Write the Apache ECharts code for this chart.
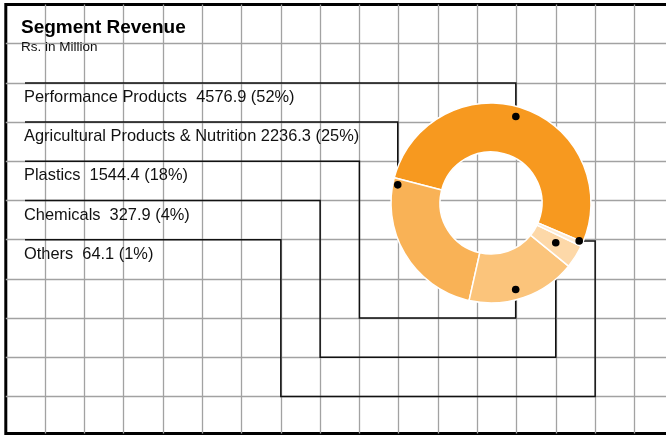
<!DOCTYPE html>
<html>
<head>
<meta charset="utf-8">
<title>Segment Revenue</title>
<script src="https://cdn.jsdelivr.net/npm/echarts@6/dist/echarts.min.js"></script>
<style>
  html, body { margin: 0; padding: 0; background: #fff; }
  #chart { width: 666px; height: 435px; }
</style>
</head>
<body>
<div id="chart"></div>
<script>
// data
var categories = ['Performance Products', 'Agricultural Products & Nutrition', 'Plastics', 'Chemicals', 'Others'];
var revenue = [4576.9, 2236.3, 1544.4, 327.9, 64.1];

// styles
var sliceColors = ['#f7991f', '#f9b256', '#fbc47b', '#fdd8a8', '#feecd6'];
var FONT = '"Liberation Sans", Arial, Helvetica, sans-serif';

// pie geometry (pixels)
var CX = 491, CY = 203, R_IN = 51, R_OUT = 100, START = -23;

// background grid (pixels)
var GX = 5.8, GY = 4.5, CELL_X = 39.29, CELL_Y = 39.2;
function gx(c) { return GX + c * CELL_X; }
function gy(r) { return GY + r * CELL_Y; }

// where each label sits and how its connector is routed (grid rows / cols)
var labelRow = [2, 3, 4, 5, 6];
var detourCol = [null, null, 9, 8, 7];
var detourRow = [null, null, 8, 9, 10];
var sideCol = [null, null, null, null, 15];
// dot position inside its slice: fraction of the slice angle, radius
var dotFrac = [0.515, 0.04, 0.45, 0.56, 0.9];
var dotR = [90, 95, 90, 76, 96];
var LABEL_X = 24;

var total = revenue.reduce(function (a, b) { return a + b; }, 0);

// dot anchor for slice i, from the cumulative data angles
function anchor(i) {
  var before = 0;
  for (var k = 0; k < i; k++) before += revenue[k];
  var a0 = START + before / total * 360;
  var span = revenue[i] / total * 360;
  var a = (a0 + span * dotFrac[i]) * Math.PI / 180;
  return [CX + dotR[i] * Math.cos(a), CY - dotR[i] * Math.sin(a)];
}

// connector from the dot to the label row
function route(i) {
  var d = anchor(i);
  var y0 = gy(labelRow[i]);
  var pts = [d];
  if (sideCol[i] != null) {
    pts.push([gx(sideCol[i]), d[1]]);
    pts.push([gx(sideCol[i]), gy(detourRow[i])]);
    pts.push([gx(detourCol[i]), gy(detourRow[i])]);
    pts.push([gx(detourCol[i]), y0]);
  } else if (detourCol[i] != null) {
    pts.push([d[0], gy(detourRow[i])]);
    pts.push([gx(detourCol[i]), gy(detourRow[i])]);
    pts.push([gx(detourCol[i]), y0]);
  } else {
    pts.push([d[0], y0]);
  }
  pts.push([LABEL_X + 1, y0]);
  return pts;
}

var chart = echarts.init(document.getElementById('chart'), null, { renderer: 'canvas' });

var dots = categories.map(function (c, i) {
  var p = anchor(i);
  return {
    type: 'circle',
    z: 100,
    shape: { cx: p[0], cy: p[1], r: 3.8 },
    style: { fill: '#000' }
  };
});

var option = {
  animation: false,
  backgroundColor: '#fff',
  title: {
    text: 'Segment Revenue',
    subtext: 'Rs. in Million',
    left: 21,
    top: 18,
    padding: 0,
    itemGap: 3,
    textStyle: { fontFamily: FONT, fontSize: 19, fontWeight: 'bold', color: '#000' },
    subtextStyle: { fontFamily: FONT, fontSize: 13.5, color: '#111' }
  },
  grid: {
    left: GX,
    top: GY,
    width: CELL_X * 17,
    height: 429,
    outerBoundsMode: 'none',
    containLabel: false,
    show: true,
    borderColor: '#000',
    borderWidth: 3,
    backgroundColor: 'transparent'
  },
  xAxis: {
    type: 'value',
    min: 0,
    max: 17,
    interval: 1,
    axisLine: { show: false },
    axisTick: { show: false },
    axisLabel: { show: false },
    splitLine: { show: true, showMinLine: false, lineStyle: { color: '#a2a2a2', width: 1.3 } }
  },
  yAxis: {
    type: 'value',
    inverse: true,
    min: 0,
    max: 429 / CELL_Y,
    interval: 1,
    axisLine: { show: false },
    axisTick: { show: false },
    axisLabel: { show: false },
    splitLine: { show: true, showMinLine: false, showMaxLine: false, lineStyle: { color: '#a2a2a2', width: 1.3 } }
  },
  graphic: dots,
  series: [
    {
      type: 'pie',
      center: [CX, CY],
      radius: [R_IN, R_OUT],
      startAngle: START,
      clockwise: false,
      avoidLabelOverlap: false,
      percentPrecision: 0,
      data: categories.map(function (c, i) {
        return { name: c, value: revenue[i], itemStyle: { color: sliceColors[i] } };
      }),
      itemStyle: { borderColor: '#fff', borderWidth: 1.5 },
      emphasis: { disabled: true },
      label: {
        show: true,
        position: 'outside',
        fontFamily: FONT,
        fontSize: 16.4,
        color: '#111',
        formatter: function (p) {
          var gap = p.name.length > 20 ? ' ' : '  ';
          return p.name + gap + p.value + ' (' + p.percent + '%)';
        }
      },
      labelLine: {
        show: true,
        smooth: false,
        lineStyle: { color: '#111', width: 1.5 }
      },
      labelLayout: function (params) {
        var i = params.dataIndex;
        return {
          x: LABEL_X,
          y: gy(labelRow[i]) + 14.5,
          align: 'left',
          verticalAlign: 'middle',
          labelLinePoints: route(i)
        };
      }
    }
  ]
};

chart.setOption(option);
</script>
</body>
</html>
